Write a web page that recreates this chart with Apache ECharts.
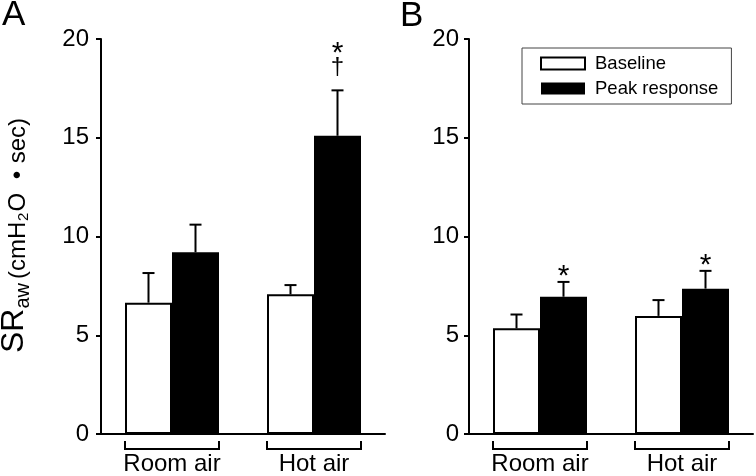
<!DOCTYPE html>
<html lang="en">
<head>
    <meta charset="UTF-8">
    <title>SRaw baseline vs peak response</title>
    <script src="https://cdn.jsdelivr.net/npm/echarts@6/dist/echarts.min.js"></script>
    <style>
        html, body { margin: 0; padding: 0; background: #fff; }
        #chart { width: 756px; height: 476px; }
    </style>
</head>
<body>
    <div id="chart"></div>
    <script>
        // data
        const categories = ['Room air', 'Hot air'];
        const baselineA = [6.65, 7.07];
        const peakA = [9.2, 15.1];
        const baselineSemA = [1.5, 0.47];
        const peakSemA = [1.4, 2.3];
        const peakMarksA = [[], ['†', '*']];

        const baselineB = [5.35, 5.98];
        const peakB = [6.95, 7.36];
        const baselineSemB = [0.7, 0.8];
        const peakSemB = [0.75, 0.9];
        const peakMarksB = [['*'], ['*']];

        const yMin = 0, yMax = 20, yStep = 5;

        const FONT = "'Liberation Sans', Arial, sans-serif";
        const BAR_W = 47;

        const chart = echarts.init(document.getElementById('chart'));

        function txt(style) {
            // both old and new style names, to be safe
            style.align = style.textAlign;
            style.verticalAlign = style.textVerticalAlign;
            return style;
        }

        // error bar (+SEM) drawn up from the bar top, with optional markers
        function errorSeries(idx, means, sems, side, marks) {
            return {
                type: 'custom',
                xAxisIndex: idx,
                yAxisIndex: idx,
                z: 5,
                clip: false,
                data: means.map((m, i) => [i, m, m + sems[i]]),
                renderItem: function (params, api) {
                    const c = api.value(0);
                    const top = api.coord([c, api.value(1)]);
                    const err = api.coord([c, api.value(2)]);
                    const cx = top[0] + side * BAR_W / 2;
                    const children = [
                        { type: 'line', shape: { x1: cx, y1: top[1], x2: cx, y2: err[1] },
                          style: { stroke: '#000', lineWidth: 2 } },
                        { type: 'line', shape: { x1: cx - 6, y1: err[1], x2: cx + 6, y2: err[1] },
                          style: { stroke: '#000', lineWidth: 2 } }
                    ];
                    let cursor = err[1];
                    (marks ? marks[params.dataIndex] : []).forEach(function (m) {
                        let center, mid, size;
                        if (m === '†') {
                            cursor -= 10; center = cursor - 11; cursor -= 22; mid = center - 1.7; size = 24;
                        } else {
                            cursor -= 6; center = cursor - 5.5; cursor -= 11; mid = center + 6.6; size = 30;
                        }
                        children.push({
                            type: 'text',
                            style: txt({ text: m, x: cx, y: mid, textAlign: 'center',
                                textVerticalAlign: 'middle', font: size + 'px ' + FONT, fill: '#000' })
                        });
                    });
                    return { type: 'group', children: children };
                }
            };
        }

        // bracket under each pair of bars
        function bracketSeries(idx) {
            return {
                type: 'custom',
                xAxisIndex: idx,
                yAxisIndex: idx,
                clip: false,
                silent: true,
                data: categories.map((c, i) => [i, 0]),
                renderItem: function (params, api) {
                    const p = api.coord([api.value(0), 0]);
                    const l = p[0] - BAR_W, r = p[0] + BAR_W;
                    return {
                        type: 'polyline',
                        shape: { points: [[l, p[1] + 7], [l, p[1] + 15], [r, p[1] + 15], [r, p[1] + 7]] },
                        style: { stroke: '#000', lineWidth: 2, fill: null }
                    };
                }
            };
        }

        function xAxis(idx) {
            return {
                type: 'category',
                gridIndex: idx,
                data: categories,
                axisLine: { lineStyle: { color: '#000', width: 2 } },
                axisTick: { show: false },
                axisLabel: { color: '#000', fontSize: 24, fontFamily: FONT, margin: 18, interval: 0 }
            };
        }

        function yAxis(idx, margin) {
            return {
                type: 'value',
                gridIndex: idx,
                min: yMin,
                max: yMax,
                interval: yStep,
                axisLine: { show: true, lineStyle: { color: '#000', width: 2 } },
                axisTick: { show: true, length: 5, lineStyle: { color: '#000', width: 2 } },
                axisLabel: { color: '#000', fontSize: 24, fontFamily: FONT, margin: margin },
                splitLine: { show: false }
            };
        }

        function bars(idx, name, values, white) {
            return {
                name: name,
                type: 'bar',
                xAxisIndex: idx,
                yAxisIndex: idx,
                barWidth: BAR_W,
                barGap: '0%',
                data: values,
                itemStyle: white
                    ? { color: '#fff', borderColor: '#000', borderWidth: 2 }
                    : { color: '#000', borderColor: '#000', borderWidth: 0 }
            };
        }

        chart.setOption({
            animation: false,
            backgroundColor: '#fff',
            grid: [
                { left: 101, top: 39, width: 284, height: 396 },
                { left: 469, top: 39, width: 284, height: 396 }
            ],
            xAxis: [xAxis(0), xAxis(1)],
            yAxis: [yAxis(0, 12), yAxis(1, 10)],
            legend: {
                data: ['Baseline', 'Peak response'],
                orient: 'vertical',
                left: 522,
                top: 48,
                padding: [6, 13, 6, 18],
                borderColor: '#444',
                borderWidth: 1,
                itemGap: 6,
                itemWidth: 44,
                itemHeight: 12,
                icon: 'rect',
                selectedMode: false,
                textStyle: { color: '#000', fontSize: 18.5, fontFamily: FONT, padding: [0, 0, 0, 5] }
            },
            graphic: [
                { type: 'text', left: 2, top: -2,
                  style: txt({ text: 'A', font: '35px ' + FONT, fill: '#000' }) },
                { type: 'text', left: 400, top: -1,
                  style: txt({ text: 'B', font: '35px ' + FONT, fill: '#000' }) },
                {
                    type: 'group',
                    x: 0,
                    y: 353,
                    rotation: Math.PI / 2,
                    children: [
                        { type: 'text', style: txt({ text: 'SR', x: 0, y: 14.4, textAlign: 'left', textVerticalAlign: 'middle', font: '32px ' + FONT, fill: '#000' }) },
                        { type: 'text', style: txt({ text: 'aw', x: 44.5, y: 23.1, textAlign: 'left', textVerticalAlign: 'middle', font: '20px ' + FONT, fill: '#000' }) },
                        { type: 'text', style: txt({ text: '(cmH', x: 74, y: 18.2, textAlign: 'left', textVerticalAlign: 'middle', font: '24px ' + FONT, fill: '#000' }) },
                        { type: 'text', style: txt({ text: '2', x: 132, y: 24.3, textAlign: 'left', textVerticalAlign: 'middle', font: '15px ' + FONT, fill: '#000' }) },
                        { type: 'text', style: txt({ text: 'O', x: 141.5, y: 18.2, textAlign: 'left', textVerticalAlign: 'middle', font: '24px ' + FONT, fill: '#000' }) },
                        { type: 'text', style: txt({ text: '•', x: 178, y: 18.2, textAlign: 'center', textVerticalAlign: 'middle', font: '24px ' + FONT, fill: '#000' }) },
                        { type: 'text', style: txt({ text: 'sec)', x: 189.7, y: 18.2, textAlign: 'left', textVerticalAlign: 'middle', font: '24px ' + FONT, fill: '#000' }) }
                    ]
                }
            ],
            series: [
                bars(0, 'Baseline', baselineA, true),
                bars(0, 'Peak response', peakA, false),
                bars(1, 'Baseline', baselineB, true),
                bars(1, 'Peak response', peakB, false),
                errorSeries(0, baselineA, baselineSemA, -1, null),
                errorSeries(0, peakA, peakSemA, 1, peakMarksA),
                errorSeries(1, baselineB, baselineSemB, -1, null),
                errorSeries(1, peakB, peakSemB, 1, peakMarksB),
                bracketSeries(0),
                bracketSeries(1)
            ]
        });
    </script>
</body>
</html>
